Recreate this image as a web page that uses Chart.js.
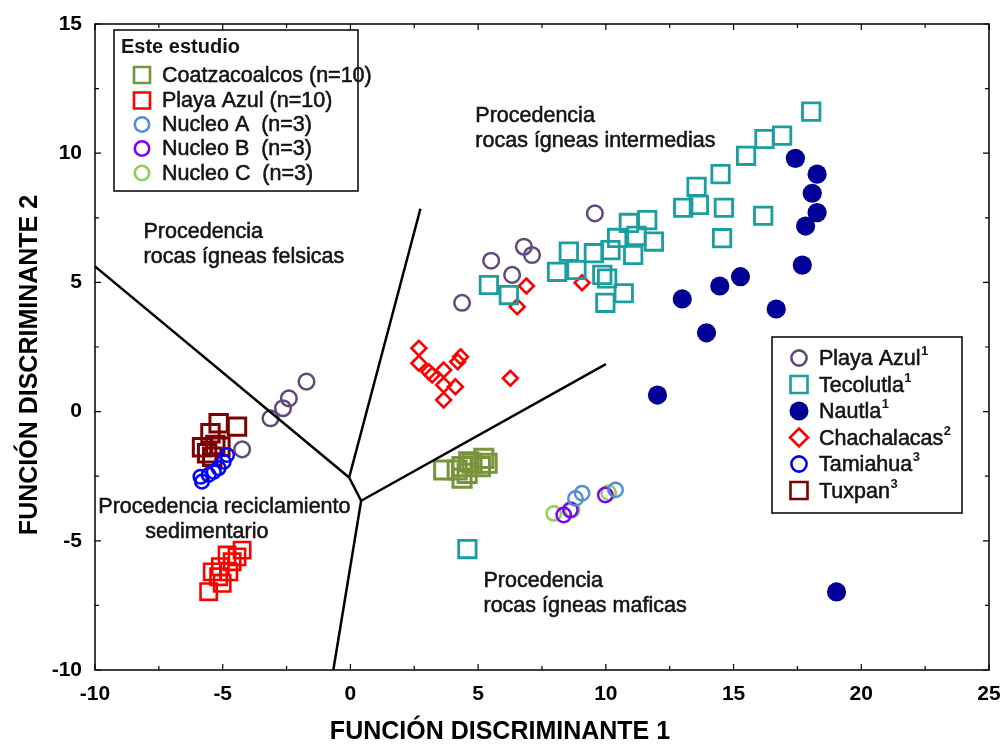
<!DOCTYPE html>
<html>
<head>
<meta charset="utf-8">
<script src="https://cdn.jsdelivr.net/npm/chart.js@4.4.0/dist/chart.umd.min.js"></script>
<style>
  html, body { margin: 0; padding: 0; background: #fff; }
  #wrap { width: 1005px; height: 746px; }
</style>
</head>
<body>
<div id="wrap"><canvas id="c" width="1005" height="746"></canvas></div>
<script>
// ---- Discriminant function scores (Función 1 = x, Función 2 = y) ----

// Este estudio
const coatzX = [3.65, 4.37, 4.63, 5.22, 5.09, 4.37, 4.76, 4.18, 4.57, 5.35];
const coatzY = [-2.26, -2.58, -1.94, -1.81, -2.13, -2.13, -2.00, -2.26, -2.39, -2.00];

const playaX = [-4.24, -4.44, -4.63, -4.83, -5.09, -4.76, -5.16, -5.41, -5.02, -5.55];
const playaY = [-5.36, -5.62, -5.81, -5.55, -6.00, -6.20, -6.39, -6.20, -6.65, -6.97];

const nucAX = [9.07, 8.81, 10.38];
const nucAY = [-3.16, -3.36, -3.03];
const nucBX = [8.35, 8.61, 9.98];
const nucBY = [-4.00, -3.81, -3.23];
const nucCX = [7.96, 8.68, 10.11];
const nucCY = [-3.94, -3.81, -3.14];

// Datos previos
const playa1X = [9.57, 6.79, 7.11, 5.51, 6.33, 4.37, -1.72, -2.41, -2.64, -3.13, -4.24];
const playa1Y = [7.67, 6.38, 6.06, 5.84, 5.29, 4.21, 1.16, 0.51, 0.13, -0.26, -1.46];

const tecoX = [18.04, 16.90, 16.21, 15.49, 14.49, 13.55, 13.03, 13.64, 14.62, 16.16,
               14.55, 11.62, 10.90, 11.88, 11.07, 10.44, 11.20, 8.55, 9.53, 10.18,
               8.09, 8.85, 9.86, 10.05, 10.70, 9.98, 5.42, 6.20, 4.58];
const tecoY = [11.61, 10.68, 10.55, 9.90, 9.19, 8.70, 7.89, 8.00, 7.89, 7.58,
               6.71, 7.41, 7.30, 6.58, 6.06, 6.72, 6.80, 6.19, 6.13, 6.25,
               5.41, 5.48, 5.29, 5.15, 4.58, 4.21, 4.90, 4.51, -5.32];

const nautlaX = [17.42, 18.27, 18.08, 18.27, 17.82, 17.69, 15.27, 14.46, 12.99, 16.67, 13.94, 12.02, 19.03];
const nautlaY = [9.80, 9.19, 8.45, 7.70, 7.18, 5.67, 5.22, 4.86, 4.36, 3.97, 3.05, 0.64, -6.98];

const chachaX = [2.68, 2.68, 3.07, 3.65, 4.31, 4.20, 3.65, 4.11, 3.65, 6.26, 3.20, 6.89, 6.53, 9.07];
const chachaY = [2.45, 1.87, 1.54, 1.61, 2.12, 1.93, 1.03, 0.96, 0.45, 1.29, 1.42, 4.86, 4.06, 4.99];

const tamiaX = [-5.81, -5.87, -5.55, -5.35, -5.16, -4.96, -4.83];
const tamiaY = [-2.71, -2.52, -2.45, -2.33, -2.19, -1.94, -1.68];

const tuxpX = [-5.16, -4.44, -5.48, -5.81, -5.29, -5.09, -5.61, -5.41];
const tuxpY = [-0.45, -0.58, -0.84, -1.38, -1.29, -1.36, -1.61, -1.75];

// Boundaries between provenance fields
const boundX = [[-10, -0.05], [2.74, -0.05], [-0.05, 0.42], [0.42, 10.0], [0.42, -0.67]];
const boundY = [[5.62, -2.55], [7.85, -2.55], [-2.55, -3.45], [-3.45, 1.84], [-3.45, -10]];

// Axis range and tick labels
const xRange = [-10, 25];
const yRange = [-10, 15];
const xTickLabels = ['-10', '-5', '0', '5', '10', '15', '20', '25'];
const yTickLabels = ['-10', '-5', '0', '5', '10', '15'];
const xTitle = 'FUNCIÓN DISCRIMINANTE 1';
const yTitle = 'FUNCIÓN DISCRIMINANTE 2';

// Field labels: lines and anchor (x, y of first baseline)
const fieldLabels = [
  { lines: ['Procedencia', 'rocas ígneas felsicas'], x: -8.10, y: 6.72, indent: [0, 0] },
  { lines: ['Procedencia', 'rocas ígneas intermedias'], x: 4.89, y: 11.20, indent: [0, 0] },
  { lines: ['Procedencia reciclamiento', 'sedimentario'], x: -9.87, y: -3.92, indent: [0, 47] },
  { lines: ['Procedencia', 'rocas ígneas maficas'], x: 5.21, y: -6.79, indent: [0, 0] }
];

const FONT = "'Liberation Sans', Arial, Helvetica, sans-serif";

const toPts = (xs, ys) => xs.map((v, i) => ({ x: v, y: ys[i] }));

// Series styles
const S = {
  coatz:  { color: '#77933c', kind: 'rect' },
  playa:  { color: '#ff0000', kind: 'rect' },
  nucA:   { color: '#558ed5', kind: 'circle' },
  nucB:   { color: '#8000ff', kind: 'circle' },
  nucC:   { color: '#92d050', kind: 'circle' },
  playa1: { color: '#604a7b', kind: 'circle' },
  teco:   { color: '#1a9e9e', kind: 'rect' },
  nautla: { color: '#000096', kind: 'dot' },
  chacha: { color: '#ff0000', kind: 'diamond' },
  tamia:  { color: '#0000ff', kind: 'circle' },
  tuxp:   { color: '#7f0000', kind: 'rect' }
};

function pointSet(label, xs, ys, st, radius, bw) {
  const filled = st.kind === 'dot';
  const style = st.kind === 'dot' ? 'circle' : (st.kind === 'diamond' ? 'rectRot' : st.kind);
  return {
    label, data: toPts(xs, ys), showLine: false,
    pointStyle: style, pointRadius: radius, pointHoverRadius: radius,
    pointBorderWidth: filled ? 0 : bw,
    pointBorderColor: st.color,
    pointBackgroundColor: filled ? st.color : 'rgba(0,0,0,0)'
  };
}

const lineSets = boundX.map((xs, i) => ({
  label: 'limite' + i, data: toPts(xs, boundY[i]), showLine: true,
  borderColor: '#000', borderWidth: 2.5, pointRadius: 0, fill: false
}));

const datasets = [
  ...lineSets,
  pointSet('Playa Azul1', playa1X, playa1Y, S.playa1, 7.8, 2.5),
  pointSet('Tecolutla1', tecoX, tecoY, S.teco, 12.3, 2.8),
  pointSet('Nautla1', nautlaX, nautlaY, S.nautla, 9.6, 0),
  pointSet('Chachalacas2', chachaX, chachaY, S.chacha, 7.4, 2.6),
  pointSet('Tamiahua3', tamiaX, tamiaY, S.tamia, 6.8, 2.5),
  pointSet('Tuxpan3', tuxpX, tuxpY, S.tuxp, 12.3, 3),
  pointSet('Coatzacoalcos', coatzX, coatzY, S.coatz, 12.8, 3),
  pointSet('Playa Azul', playaX, playaY, S.playa, 11.5, 2.6),
  pointSet('Nucleo A', nucAX, nucAY, S.nucA, 7.2, 2.5),
  pointSet('Nucleo B', nucBX, nucBY, S.nucB, 7.2, 2.5),
  pointSet('Nucleo C', nucCX, nucCY, S.nucC, 7.2, 2.5)
];

function marker(ctx, kind, x, y, r, color, lw) {
  ctx.save();
  ctx.lineWidth = lw; ctx.strokeStyle = color; ctx.fillStyle = color;
  ctx.beginPath();
  if (kind === 'rect') { ctx.rect(x - r, y - r, 2 * r, 2 * r); ctx.stroke(); }
  else if (kind === 'circle') { ctx.arc(x, y, r, 0, Math.PI * 2); ctx.stroke(); }
  else if (kind === 'dot') { ctx.arc(x, y, r, 0, Math.PI * 2); ctx.fill(); }
  else if (kind === 'diamond') {
    ctx.moveTo(x, y - r); ctx.lineTo(x + r, y); ctx.lineTo(x, y + r); ctx.lineTo(x - r, y);
    ctx.closePath(); ctx.stroke();
  }
  ctx.restore();
}

// Slightly heavier text: fill plus a thin stroke of the same colour
function heavyText(ctx, t, x, y, color) {
  ctx.fillStyle = color; ctx.strokeStyle = color;
  ctx.lineWidth = 0.55;
  ctx.fillText(t, x, y);
  ctx.strokeText(t, x, y);
}

// Frame with inward tick marks on all four sides
const framePlugin = {
  id: 'frame',
  beforeDatasetsDraw(chart) {
    const { ctx, chartArea: a, scales: { x, y } } = chart;
    ctx.save();
    ctx.strokeStyle = '#000';
    ctx.lineWidth = 1.5;
    ctx.strokeRect(a.left, a.top, a.right - a.left, a.bottom - a.top);
    ctx.lineWidth = 1.2;
    ctx.beginPath();
    for (let v = xRange[0]; v <= xRange[1]; v += 2.5) {
      const p = x.getPixelForValue(v);
      const len = (v % 5 === 0) ? 6 : 4;
      ctx.moveTo(p, a.bottom); ctx.lineTo(p, a.bottom - len);
      ctx.moveTo(p, a.top); ctx.lineTo(p, a.top + len);
    }
    for (let v = yRange[0]; v <= yRange[1]; v += 2.5) {
      const p = y.getPixelForValue(v);
      const len = (v % 5 === 0) ? 6 : 4;
      ctx.moveTo(a.left, p); ctx.lineTo(a.left + len, p);
      ctx.moveTo(a.right, p); ctx.lineTo(a.right - len, p);
    }
    ctx.stroke();
    ctx.restore();
  }
};

// Field labels, axis titles and the two legend boxes
const overlayPlugin = {
  id: 'overlay',
  afterDraw(chart) {
    const { ctx, scales: { x, y } } = chart;
    const ink = '#141414';
    ctx.save();
    ctx.textAlign = 'left';
    ctx.textBaseline = 'alphabetic';
    ctx.font = '21.5px ' + FONT;
    fieldLabels.forEach(f => {
      const px = x.getPixelForValue(f.x), py = y.getPixelForValue(f.y);
      f.lines.forEach((t, i) => heavyText(ctx, t, px + f.indent[i], py + i * 25, ink));
    });

    // axis titles
    ctx.fillStyle = '#000';
    ctx.font = 'bold 25px ' + FONT;
    ctx.textAlign = 'center';
    ctx.fillText(xTitle, 500, 739);
    ctx.save();
    ctx.translate(37, 365);
    ctx.rotate(-Math.PI / 2);
    ctx.fillText(yTitle, 0, 0);
    ctx.restore();

    // legend: Este estudio
    ctx.fillStyle = '#fff';
    ctx.fillRect(114, 30, 244, 161);
    ctx.strokeStyle = '#000'; ctx.lineWidth = 1.5;
    ctx.strokeRect(114, 30, 244, 161);
    ctx.textAlign = 'left';
    ctx.font = 'bold 20px ' + FONT;
    ctx.fillStyle = ink;
    ctx.fillText('Este estudio', 121, 53);
    const leg1 = [
      ['Coatzacoalcos (n=10)', S.coatz, 75],
      ['Playa Azul (n=10)', S.playa, 100.5],
      ['Nucleo A  (n=3)', S.nucA, 124.5],
      ['Nucleo B  (n=3)', S.nucB, 148.5],
      ['Nucleo C  (n=3)', S.nucC, 173]
    ];
    ctx.font = '21.5px ' + FONT;
    leg1.forEach(([t, st, cy]) => {
      marker(ctx, st.kind, 142, cy, st.kind === 'rect' ? 8 : 7.2, st.color, 2.6);
      heavyText(ctx, t, 162, cy + 6.5, ink);
    });

    // legend: previous studies, with reference superscripts
    ctx.fillStyle = '#fff';
    ctx.fillRect(772, 337, 190, 176);
    ctx.strokeStyle = '#000'; ctx.lineWidth = 1.5;
    ctx.strokeRect(772, 337, 190, 176);
    const leg2 = [
      ['Playa Azul', '1', S.playa1, 358],
      ['Tecolutla', '1', S.teco, 384.5],
      ['Nautla', '1', S.nautla, 411],
      ['Chachalacas', '2', S.chacha, 437.5],
      ['Tamiahua', '3', S.tamia, 464],
      ['Tuxpan', '3', S.tuxp, 490.5]
    ];
    leg2.forEach(([t, sup, st, cy]) => {
      const r = st.kind === 'rect' ? 8.5 : st.kind === 'diamond' ? 9 : st.kind === 'dot' ? 9.5 : 7.6;
      marker(ctx, st.kind, 799, cy, r, st.color, 2.6);
      ctx.font = '21.5px ' + FONT;
      heavyText(ctx, t, 819, cy + 7, ink);
      const w = ctx.measureText(t).width;
      ctx.font = 'bold 13px ' + FONT;
      ctx.fillStyle = ink;
      ctx.fillText(sup, 819 + w + 0.5, cy - 3);
    });
    ctx.restore();
  }
};

new Chart(document.getElementById('c'), {
  type: 'scatter',
  data: { datasets },
  options: {
    responsive: false,
    animation: false,
    devicePixelRatio: 1,
    layout: { padding: { left: 0, top: 24, right: 16, bottom: 0 } },
    plugins: { legend: { display: false }, tooltip: { enabled: false } },
    scales: {
      x: {
        type: 'linear', min: xRange[0], max: xRange[1],
        grid: { display: false, drawTicks: false },
        border: { display: false },
        ticks: {
          stepSize: 5, padding: 12, color: '#000',
          font: { family: FONT, size: 21, weight: 'bold' },
          callback: (v) => xTickLabels.includes(String(v)) ? String(v) : ''
        },
        afterFit: (s) => { s.height = 76; s.paddingLeft = 0; s.paddingRight = 0; }
      },
      y: {
        type: 'linear', min: yRange[0], max: yRange[1],
        grid: { display: false, drawTicks: false },
        border: { display: false },
        ticks: {
          stepSize: 5, padding: 13, color: '#000',
          font: { family: FONT, size: 21, weight: 'bold' },
          callback: (v) => yTickLabels.includes(String(v)) ? String(v) : ''
        },
        afterFit: (s) => { s.width = 95; s.paddingTop = 0; s.paddingBottom = 0; }
      }
    }
  },
  plugins: [framePlugin, overlayPlugin]
});
</script>
</body>
</html>
